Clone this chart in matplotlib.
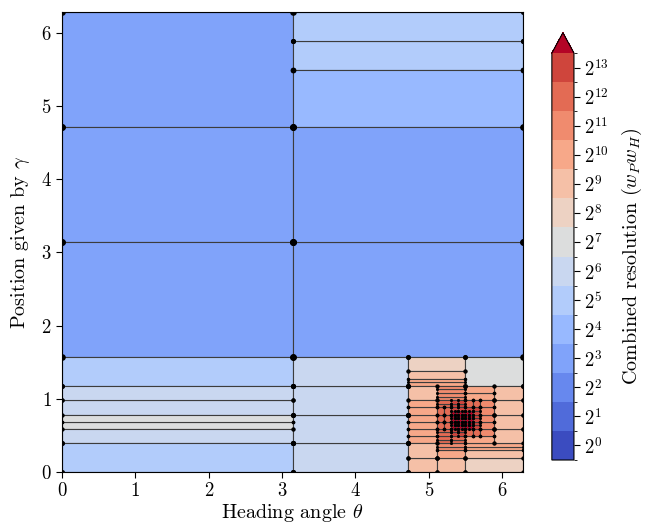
import numpy as np
import matplotlib
matplotlib.use("Agg")
import matplotlib.pyplot as plt
from matplotlib.patches import Rectangle
from matplotlib.colors import BoundaryNorm
from matplotlib.cm import ScalarMappable

plt.rcParams['font.family'] = 'serif'
plt.rcParams['font.serif'] = ['cmr10', 'DejaVu Serif']
plt.rcParams['mathtext.fontset'] = 'cm'
plt.rcParams['axes.unicode_minus'] = False
plt.rcParams['axes.formatter.use_mathtext'] = True
plt.rcParams['font.size'] = 13

# Partition blocks, coordinates in units of pi/64 (theta, gamma)
# each block is a uniform grid of cells of size (dt, dg) with resolution 2**exp
blk_t0  = [0, 0, 0, 0, 0, 0, 0, 0,
           64, 64, 64, 64,
           96, 96, 96, 112, 96, 96, 96, 104, 104, 104, 112, 112, 112, 120,
           104, 112, 104, 104, 104, 108, 112, 108, 112, 108, 114, 108, 108, 112, 116]
blk_t1  = [64, 64, 64, 64, 64, 64, 64, 64,
           128, 128, 128, 96,
           112, 112, 112, 128, 104, 104, 104, 112, 112, 112, 128, 128, 128, 128,
           112, 120, 108, 108, 108, 112, 120, 112, 116, 114, 116, 114, 112, 116, 120]
blk_g0  = [96, 64, 32, 24, 16, 12, 8, 0,
           112, 96, 32, 0,
           28, 26, 24, 24, 20, 8, 0, 0, 4, 6, 0, 4, 6, 8,
           20, 20, 8, 12, 18, 8, 8, 10, 10, 12, 12, 17, 18, 18, 10]
blk_g1  = [128, 96, 64, 32, 24, 16, 12, 8,
           128, 112, 96, 32,
           32, 28, 26, 32, 24, 20, 8, 4, 6, 8, 4, 6, 8, 24,
           24, 24, 12, 18, 20, 10, 10, 12, 12, 17, 18, 18, 20, 20, 20]
blk_dt  = [64, 64, 64, 64, 64, 64, 64, 64,
           64, 64, 64, 32,
           16, 16, 16, 16, 8, 8, 8, 8, 8, 8, 16, 16, 16, 8,
           8, 8, 4, 2, 4, 4, 8, 2, 2, 1, 2, 2, 2, 2, 4]
blk_dg  = [32, 32, 32, 8, 4, 2, 4, 8,
           8, 16, 32, 8,
           4, 2, 1, 8, 4, 2, 4, 4, 2, 1, 4, 2, 1, 4,
           1, 2, 1, 2, 1, 1, 2, 1, 2, 1, 1, 1, 1, 2, 2]
blk_exp = [3, 3, 3, 5, 6, 7, 6, 5,
           5, 4, 3, 6,
           8, 9, 10, 7, 9, 10, 9, 9, 10, 11, 8, 9, 10, 9,
           11, 10, 12, 12, 12, 12, 10, 13, 12, 14, 13, 13, 13, 12, 11]

cbar_exps = list(range(14))
cbar_labels = [r'$2^{%d}$' % k for k in cbar_exps]

unit = np.pi / 64
levels = np.arange(-0.5, 14.0, 1.0)
cmap = plt.get_cmap('coolwarm')
norm = BoundaryNorm(levels, ncolors=cmap.N, extend='max')

fig = plt.figure(figsize=(6.5, 5.31), dpi=100)
ax = fig.add_axes([0.0954, 0.1111, 0.7092, 0.8663])
cax = fig.add_axes([0.849, 0.1337, 0.034, 0.8047])

for t0, t1, g0, g1, dt, dg, e in zip(blk_t0, blk_t1, blk_g0, blk_g1,
                                     blk_dt, blk_dg, blk_exp):
    col = cmap(norm(e))
    for ta in np.arange(t0, t1, dt):
        for ga in np.arange(g0, g1, dg):
            x0, y0 = ta * unit, ga * unit
            w, h = dt * unit, dg * unit
            ax.add_patch(Rectangle((x0, y0), w, h, facecolor=col,
                                   edgecolor='#3c3c3c', linewidth=0.8,
                                   joinstyle='round', zorder=1))
            m = min(dt, dg)
            d = 2.0 + 0.55 * np.log2(m)
            ax.plot([x0, x0 + w, x0, x0 + w], [y0, y0, y0 + h, y0 + h],
                    linestyle='none', marker='o', color='black',
                    markersize=d, markeredgewidth=0, zorder=3)

ax.set_xlim(0, 2 * np.pi)
ax.set_ylim(0, 2 * np.pi)
ax.set_xticks(range(7))
ax.set_yticks(range(7))
ax.set_xlabel(r'Heading angle $\theta$', fontsize=14.5, labelpad=1)
ax.set_ylabel(r'Position given by $\gamma$', fontsize=14.5, labelpad=6)
ax.tick_params(direction='out', length=4, labelsize=13.5)

sm = ScalarMappable(norm=norm, cmap=cmap)
cb = fig.colorbar(sm, cax=cax, extend='max', ticks=cbar_exps)
cb.ax.set_yticklabels(cbar_labels)
cb.ax.tick_params(labelsize=13.5, length=4)
cb.set_label(r'Combined resolution ($w_P w_H$)', fontsize=14.5, labelpad=8)

fig.savefig('out.png', dpi=100)
